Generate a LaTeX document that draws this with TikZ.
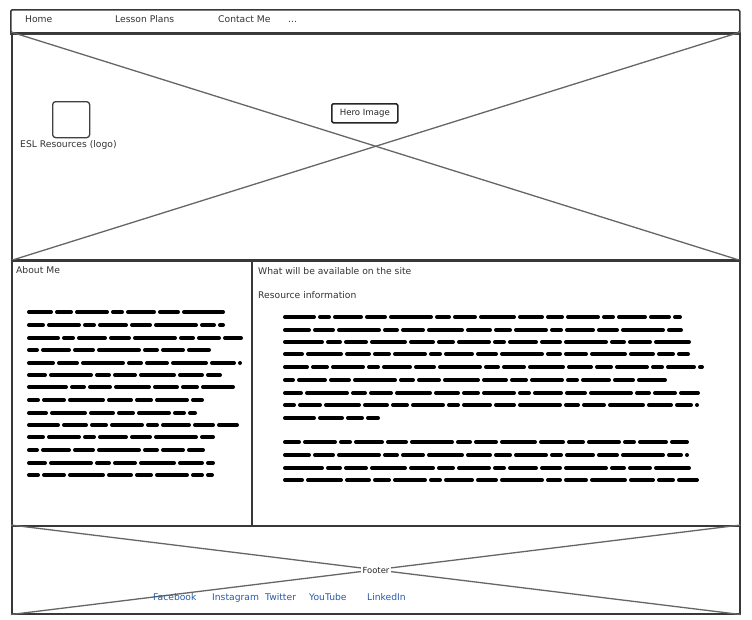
\documentclass[tikz,border=0pt]{standalone}
\usepackage{fontspec}
\setmainfont{DejaVu Sans}
\begin{document}
\begin{tikzpicture}[x=1pt,y=-1pt,
  frame/.style={draw=black!78, line width=1.5pt, inner sep=0pt, anchor=north west},
  cross/.style={draw=black!60, line width=1.3pt},
  lbl/.style={inner sep=0pt, anchor=base west, font=\fontsize{9.2}{10}\selectfont, text=black!80},
  link/.style={lbl, text={rgb,255:red,40;green,90;blue,170}},
  greek/.style={line width=4pt, black, line cap=round,
    dash pattern=on 22pt off 6pt on 14pt off 6pt on 30pt off 6pt on 9pt off 6pt on 26pt off 6pt on 18pt off 6pt on 40pt off 6pt on 12pt off 6pt on 20pt off 6pt on 33pt off 6pt}
]
\path[use as bounding box, fill=white] (0,0) rectangle (752,619);

% navigation bar
\node[frame, rounded corners=1.5pt, minimum width=729pt, minimum height=23pt] (nav) at (10,9) {};
\draw[black!75, line width=2.2pt] (nav.south west) -- (nav.south east);
\node[lbl] (home) at (25,22) {Home};
\node[lbl] (lessons) at (115,22) {Lesson Plans};
\node[lbl] (contact) at (218,22) {Contact Me};
\node[lbl] (more) at (288,22) {...};

% hero
\node[frame, minimum width=728pt, minimum height=227pt] (hero) at (11,32) {};
\draw[cross] (hero.north west) -- (hero.south east);
\draw[cross] (hero.south west) -- (hero.north east);
\node[draw=black!75, line width=1.3pt, rounded corners=3pt, minimum width=37pt, minimum height=36pt, anchor=north west] (logo) at (52,101) {};
\node[lbl] (logotext) at (20,147) {ESL Resources (logo)};
\node[draw=black!85, line width=1.6pt, rounded corners=1.5pt, fill=white, minimum width=66pt, minimum height=19pt, inner sep=0pt, anchor=north west] (herobox) at (331,103) {};
\node[inner sep=0pt, font=\fontsize{8.6}{9}\selectfont, text=black!85] (herotext) at (herobox.center) {Hero Image};

% content columns
\node[frame, minimum width=240pt, minimum height=265pt] (about) at (11,260) {};
\node[frame, minimum width=488pt, minimum height=265pt] (avail) at (251,260) {};
\node[lbl] (abouttitle) at (16,273) {About Me};
\node[lbl] (availtitle) at (258,274) {What will be available on the site};
\node[lbl] (restitle) at (258,298) {Resource information};

% greeked text, left column
\foreach \y/\e/\p in {312/223/0, 325/223/28, 338/241/49, 350/209/85, 363/240/101, 375/220/133, 387/235/158,
                     400/203/204, 413/195/222, 425/237/249, 437/213/28, 450/203/85, 463/213/133, 475/212/204}
  \draw[greek, dash phase=\p] (29,\y) -- (\e,\y);

% greeked text, right column
\foreach \y/\e/\p in {317/680/49, 330/683/101, 342/692/158, 354/688/222, 367/702/0, 380/665/85, 393/698/133, 405/697/204, 418/378/249,
                     442/687/28, 455/687/101, 468/690/158, 480/697/222}
  \draw[greek, dash phase=\p] (285,\y) -- (\e,\y);

% footer
\node[frame, minimum width=728pt, minimum height=88pt] (footer) at (11,525) {};
\draw[cross] (footer.north west) -- (footer.south east);
\draw[cross] (footer.south west) -- (footer.north east);
\node[fill=white, inner sep=1.5pt, font=\fontsize{8.4}{9}\selectfont, text=black!85] (footertext) at (376,570) {Footer};
\node[link] (fb) at (153,600) {Facebook};
\node[link] (ig) at (212,600) {Instagram};
\node[link] (tw) at (265,600) {Twitter};
\node[link] (yt) at (309,600) {YouTube};
\node[link] (li) at (367,600) {LinkedIn};
\end{tikzpicture}
\end{document}
